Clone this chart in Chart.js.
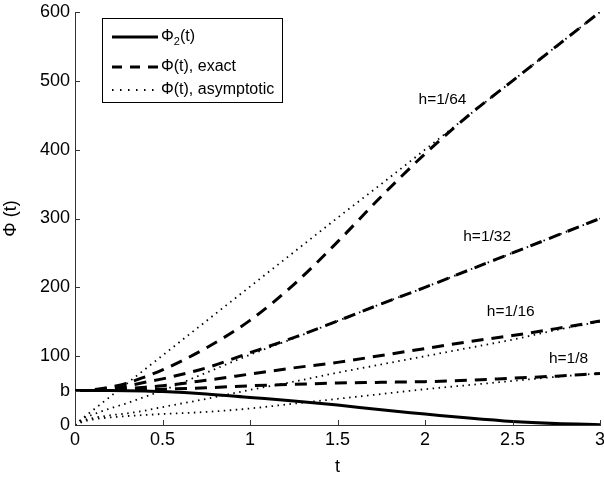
<!DOCTYPE html>
<html>
<head>
<meta charset="utf-8">
<script src="https://cdn.jsdelivr.net/npm/chart.js@4.4.1/dist/chart.umd.min.js"></script>
<style>
  html, body { margin: 0; padding: 0; background: #fff; }
  #wrap { width: 604px; height: 478px; }
</style>
</head>
<body>
<div id="wrap"><canvas id="myChart" width="604" height="478"></canvas></div>
<script>
/*========== DATA (doc tu hinh) ==========*/
const tValues = [0, 0.05, 0.1, 0.2, 0.3, 0.4, 0.5, 0.75, 1, 1.25, 1.5, 1.75, 2, 2.25, 2.5, 2.75, 3];

const phi2 = [50, 50, 50, 50, 49.8, 49.3, 48.5, 45, 40, 35, 29, 22, 16, 10, 5, 2, 0.5];

// Phi(t), exact
const exact8  = [50, 50, 50, 50, 51, 51.5, 52, 54, 57, 59, 61, 62, 63, 65, 68, 71, 75];
const exact16 = [50, 50, 50, 51, 53, 55, 57, 65, 74, 83, 91, 101, 111, 121, 130, 140, 151];
const exact32 = [50, 50, 51, 53, 57, 62, 67, 83, 105, 127, 151, 176, 200, 225, 250, 275, 300];
const exact64 = [50, 50, 51, 55, 61, 70, 80, 112, 152, 204, 266, 332, 394, 450, 500, 550, 600];

// Phi(t), asymptotic
const asym8  = [0, 5, 8, 11, 13, 14.5, 16, 19, 24, 31, 38, 45, 52, 58, 64, 70, 75];
const asym16 = [0, 7, 10, 14, 17, 21, 26, 38, 51, 63, 76, 88, 100, 112, 124, 138, 150];
const asym32 = [0, 10, 15, 24, 32, 41, 50, 76, 102, 126, 151, 176, 200, 225, 250, 275, 300];
const asym64 = [0, 11, 21, 41, 61, 81, 101, 151, 201, 251, 301, 350, 400, 450, 500, 550, 600];

const yTickValues = [0, 50, 100, 200, 300, 400, 500, 600];

// nhan h=... (toa do theo du lieu)
const hLabels = ['h=1/64', 'h=1/32', 'h=1/16', 'h=1/8'];
const hLabelT = [2.1, 2.355, 2.49, 2.82];
const hLabelPhi = [472, 273, 164, 97];

/*========== STYLE ==========*/
const FONT = '"Liberation Sans", Arial, sans-serif';
const AXIS_COLOR = '#333';

function toPoints(arr) {
  return tValues.map((t, i) => ({ x: t, y: arr[i] }));
}

function dotted(arr) {
  return { data: toPoints(arr), borderColor: '#000', borderWidth: 1.8, borderDash: [1.5, 4.5],
           pointRadius: 0, cubicInterpolationMode: 'monotone' };
}
function dashed(arr) {
  return { data: toPoints(arr), borderColor: '#000', borderWidth: 3, borderDash: [12, 8],
           pointRadius: 0, cubicInterpolationMode: 'monotone' };
}

/*========== PLUGIN: tick huong vao trong, legend, nhan h ==========*/
const extrasPlugin = {
  id: 'extras',
  afterDraw(chart) {
    const { ctx, chartArea, scales } = chart;
    ctx.save();
    // tick vao trong
    ctx.strokeStyle = AXIS_COLOR;
    ctx.lineWidth = 1;
    ctx.beginPath();
    scales.y.ticks.forEach(tk => {
      const y = Math.round(scales.y.getPixelForValue(tk.value)) + 0.5;
      ctx.moveTo(chartArea.left, y);
      ctx.lineTo(chartArea.left + 5, y);
    });
    scales.x.ticks.forEach(tk => {
      const x = Math.round(scales.x.getPixelForValue(tk.value)) + 0.5;
      ctx.moveTo(x, chartArea.bottom);
      ctx.lineTo(x, chartArea.bottom - 5);
    });
    ctx.stroke();

    // nhan h=...
    ctx.fillStyle = '#000';
    ctx.font = '15.5px ' + FONT;
    ctx.textAlign = 'center';
    ctx.textBaseline = 'middle';
    hLabels.forEach((txt, i) => {
      ctx.fillText(txt, scales.x.getPixelForValue(hLabelT[i]), scales.y.getPixelForValue(hLabelPhi[i]));
    });

    // legend
    const bx = 102, by = 18, bw = 180, bh = 84;
    ctx.fillStyle = '#fff';
    ctx.fillRect(bx, by, bw, bh);
    ctx.strokeStyle = '#000';
    ctx.lineWidth = 1;
    ctx.strokeRect(bx + 0.5, by + 0.5, bw, bh);

    const rows = [37, 67, 90];
    const x0 = 112, x1 = 158;
    ctx.strokeStyle = '#000';
    // solid
    ctx.lineWidth = 3; ctx.setLineDash([]);
    ctx.beginPath(); ctx.moveTo(x0, rows[0]); ctx.lineTo(x1, rows[0]); ctx.stroke();
    // dashed
    ctx.setLineDash([10, 8]);
    ctx.beginPath(); ctx.moveTo(x0, rows[1]); ctx.lineTo(x1, rows[1]); ctx.stroke();
    // dotted
    ctx.lineWidth = 1.8; ctx.setLineDash([1.5, 6.5]);
    ctx.beginPath(); ctx.moveTo(x0, rows[2]); ctx.lineTo(x1 + 2, rows[2]); ctx.stroke();
    ctx.setLineDash([]);

    ctx.fillStyle = '#000';
    ctx.textAlign = 'left';
    ctx.textBaseline = 'middle';
    ctx.font = '16px ' + FONT;
    let tx = 161;
    ctx.fillText('Φ', tx, rows[0]);
    tx += ctx.measureText('Φ').width;
    ctx.font = '11px ' + FONT;
    ctx.fillText('2', tx, rows[0] + 5);
    tx += ctx.measureText('2').width;
    ctx.font = '16px ' + FONT;
    ctx.fillText('(t)', tx, rows[0]);
    ctx.fillText('Φ(t), exact', 161, rows[1]);
    ctx.fillText('Φ(t), asymptotic', 161, rows[2]);
    ctx.restore();
  }
};

/*========== TAO CHART ==========*/
const ctx = document.getElementById('myChart').getContext('2d');

const chart = new Chart(ctx, {
  type: 'line',
  data: {
    datasets: [
      dotted(asym8), dotted(asym16), dotted(asym32), dotted(asym64),
      dashed(exact8), dashed(exact16), dashed(exact32), dashed(exact64),
      { data: toPoints(phi2), borderColor: '#000', borderWidth: 3, pointRadius: 0,
        cubicInterpolationMode: 'monotone' }
    ]
  },
  options: {
    animation: false,
    responsive: false,
    layout: { padding: { top: 12, right: 4, left: 0, bottom: 0 } },
    plugins: { legend: { display: false }, tooltip: { enabled: false } },
    scales: {
      x: {
        type: 'linear',
        min: 0, max: 3,
        ticks: { stepSize: 0.5, color: '#000', padding: 4, maxRotation: 0,
                 font: { family: FONT, size: 18 },
                 callback: (v) => String(v) },
        grid: { display: true, drawOnChartArea: false, drawTicks: false },
        border: { display: true, color: AXIS_COLOR, width: 1 },
        title: { display: true, text: 't', color: '#000', padding: { top: 2, bottom: 0 },
                 font: { family: FONT, size: 18 } },
        afterFit: (s) => { s.height = 53; s.paddingLeft = 0; s.paddingRight = 0; }
      },
      y: {
        type: 'linear',
        min: 0, max: 600,
        afterBuildTicks: (s) => { s.ticks = yTickValues.map(v => ({ value: v })); },
        ticks: { color: '#000', padding: 5,
                 font: { family: FONT, size: 18 },
                 callback: (v) => (v === 50 ? 'b' : v) },
        grid: { display: true, drawOnChartArea: false, drawTicks: false },
        border: { display: true, color: AXIS_COLOR, width: 1 },
        title: { display: true, text: 'Φ (t)', color: '#000', padding: { top: 0, bottom: 2 },
                 font: { family: FONT, size: 18 } },
        afterFit: (s) => { s.width = 75; s.paddingTop = 0; s.paddingBottom = 0; }
      }
    }
  },
  plugins: [extrasPlugin]
});
</script>
</body>
</html>
